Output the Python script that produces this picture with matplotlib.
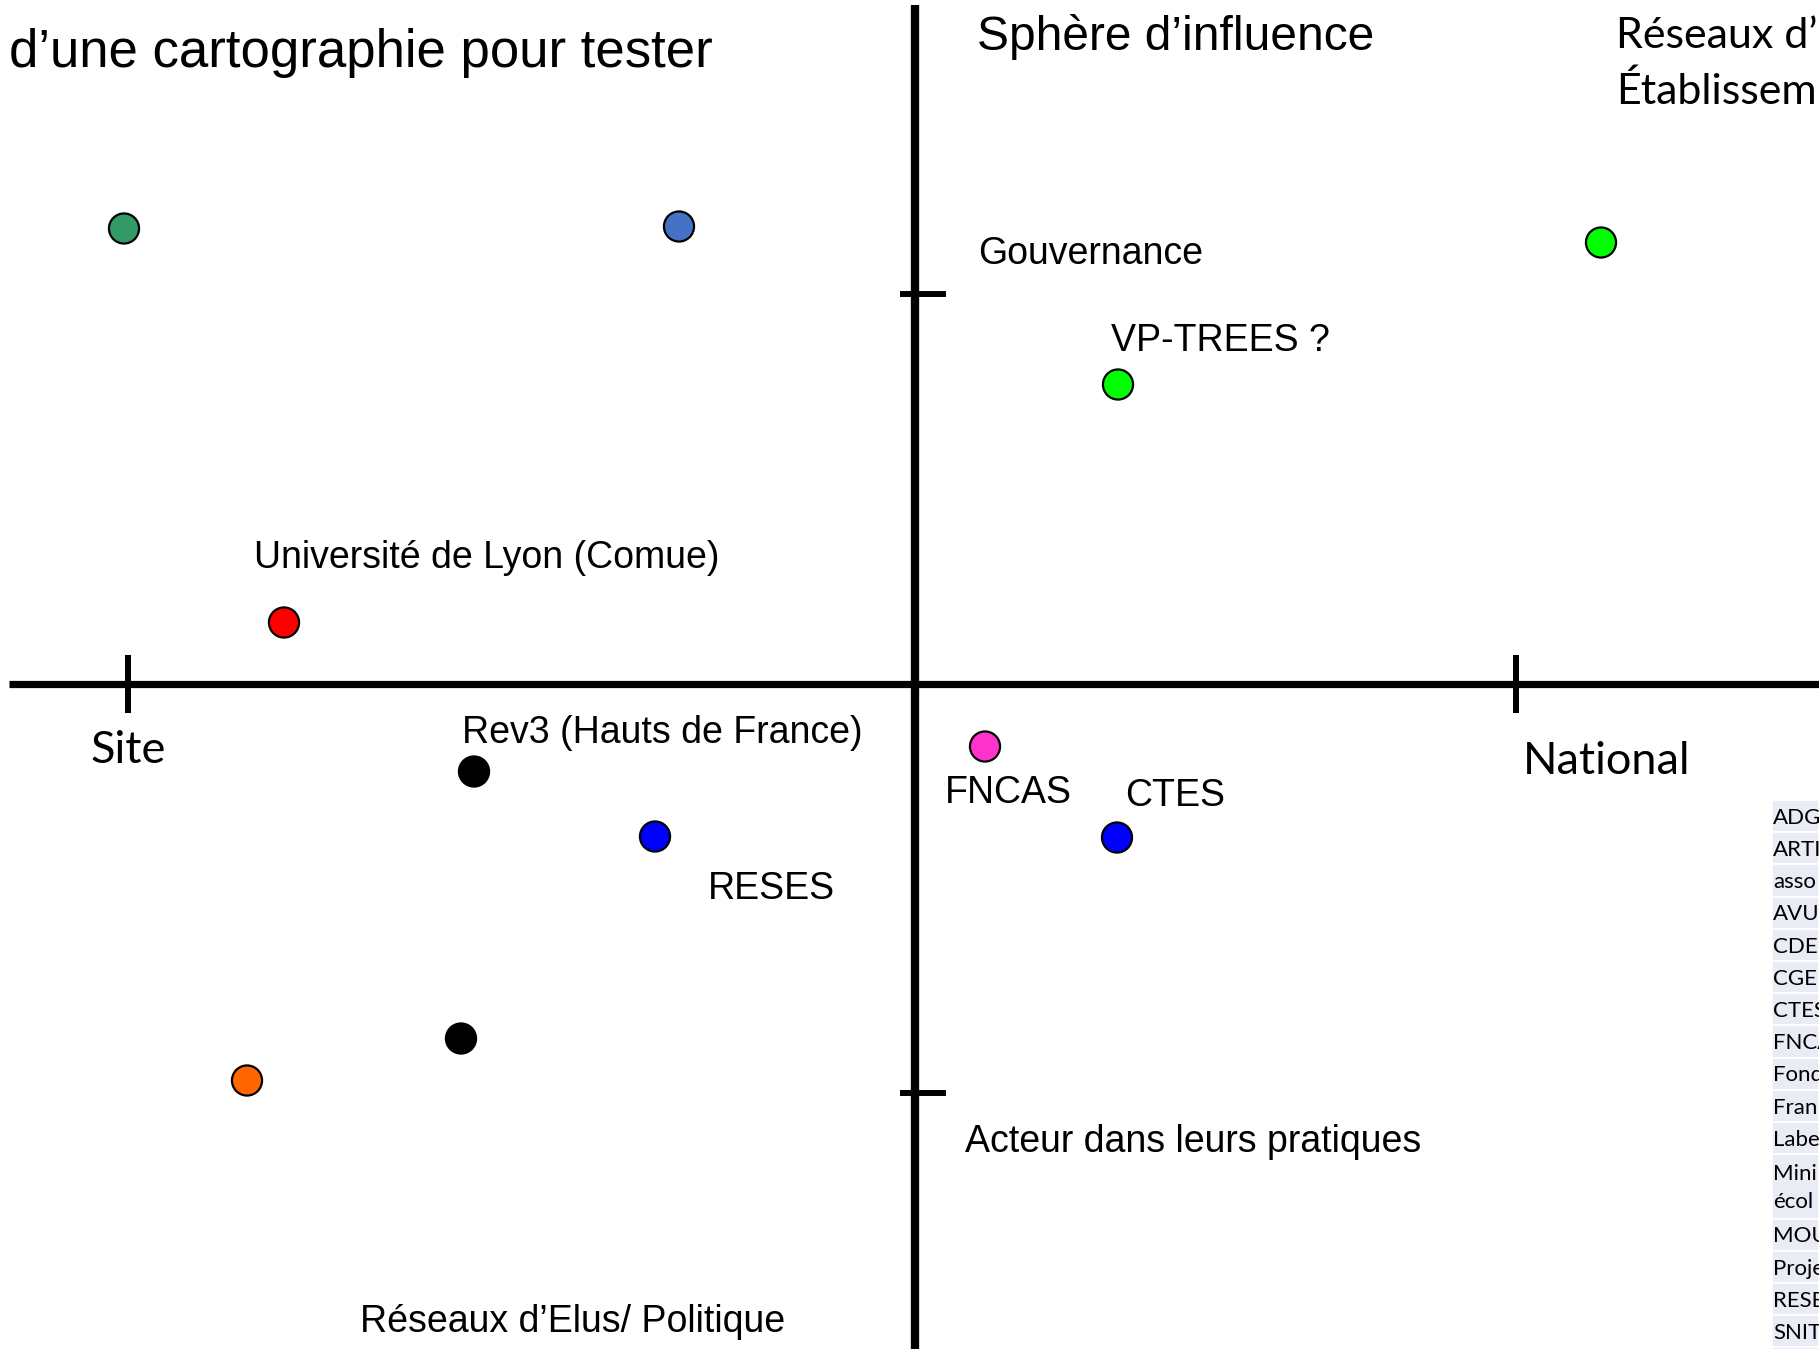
import matplotlib
matplotlib.use("Agg")
import matplotlib.pyplot as plt
from matplotlib.patches import Rectangle

# positioning map: x = Site (-) .. National (+), y = pratiques (-) .. gouvernance (+)
px = [-7.91, -2.36, 6.86, 2.03, -6.31, 0.70, -4.41, -2.60, 2.02, -4.54, -6.68]
py = [4.56, 4.58, 4.42, 3.00, 0.62, -0.62, -0.87, -1.52, -1.53, -3.54, -3.96]
pcolors = ["#339966", "#4472C4", "#00FF00", "#00FF00", "#FF0000", "#FF33CC",
           "#000000", "#0000FF", "#0000FF", "#000000", "#FF6600"]

labels = ["Gouvernance", "VP-TREES ?", "Université de Lyon (Comue)",
          "Rev3 (Hauts de France)", "RESES", "FNCAS", "CTES",
          "Acteur dans leurs pratiques", "Réseaux d\u2019Elus/ Politique"]
label_xy = [(0.63, 4.31), (1.96, 3.43), (-6.61, 1.26), (-4.53, -0.49),
            (-2.07, -2.05), (0.30, -1.09), (2.10, -1.12), (0.50, -4.57),
            (-5.55, -6.38)]

xticks = [-7.87, 6.01]
yticks = [3.90, -4.08]

table_rows = ["ADG", "ARTI", "asso", "AVU", "CDEF", "CGE", "CTES", "FNCA",
              "Fond", "Fran", "Labe", "Mini\nécol", "MOU", "Proje", "RESE",
              "SNIT", ""]

W, H = 1819, 1349
fig = plt.figure(figsize=(W / 100, H / 100), dpi=100)
ax = fig.add_axes([0, 0, 1, 1])
ax.set_xlim(-9.15, 9.04)
ax.set_ylim(-6.645, 6.845)
ax.axis("off")

arial = ["Liberation Sans", "DejaVu Sans"]
cal = ["Lato", "DejaVu Sans"]

# axes cross
ax.plot([-9.06, 9.04], [0, 0], color="black", lw=5.2, solid_capstyle="butt")
ax.plot([0, 0], [6.79, -6.645], color="black", lw=6.0, solid_capstyle="butt")
for xt in xticks:
    ax.plot([xt, xt], [0.29, -0.29], color="black", lw=4.3, solid_capstyle="butt")
for yt in yticks:
    ax.plot([-0.15, 0.31], [yt, yt], color="black", lw=4.3, solid_capstyle="butt")

ax.scatter(px, py, s=470, c=pcolors, edgecolors="black", linewidths=1.6, zorder=3)

for t, (x, y) in zip(labels, label_xy):
    ax.text(x, y, t, fontsize=27, family=arial, va="center", ha="left")

ax.text(-7.87, -0.66, "Site", fontsize=32.5, family=cal, va="center", ha="center")
ax.text(6.08, -0.77, "National", fontsize=32.5, family=cal, va="center", ha="left")
ax.text(-9.06, 6.31, "d\u2019une cartographie pour tester", fontsize=38,
        family=arial, va="center", ha="left")
ax.text(0.62, 6.47, "Sphère d\u2019influence", fontsize=34.5, family=arial,
        va="center", ha="left")
ax.text(7.01, 6.48, "Réseaux d\u2019", fontsize=31, family=cal, va="center", ha="left")
ax.text(7.01, 5.93, "Établissem", fontsize=31, family=cal, va="center", ha="left")

# list of actors (cut at the right edge, as on the slide)
tx0 = 1772 / W
tax = fig.add_axes([tx0, 0, 1 - tx0, 1 - 800 / H])
tax.set_xlim(0, 1)
tax.set_ylim(549 / 32.2, 0)
tax.axis("off")
y = 0
for name in table_rows:
    h = 2 if "\n" in name else 1
    tax.add_patch(Rectangle((0, y), 1, h, facecolor="#E9EBF5",
                            edgecolor="white", lw=1.2))
    tax.text(0.03, y + h / 2 + 0.05, name, fontsize=16, family=cal, va="center",
             ha="left", linespacing=1.5, clip_on=True)
    y += h

fig.savefig("out.png", dpi=100)
